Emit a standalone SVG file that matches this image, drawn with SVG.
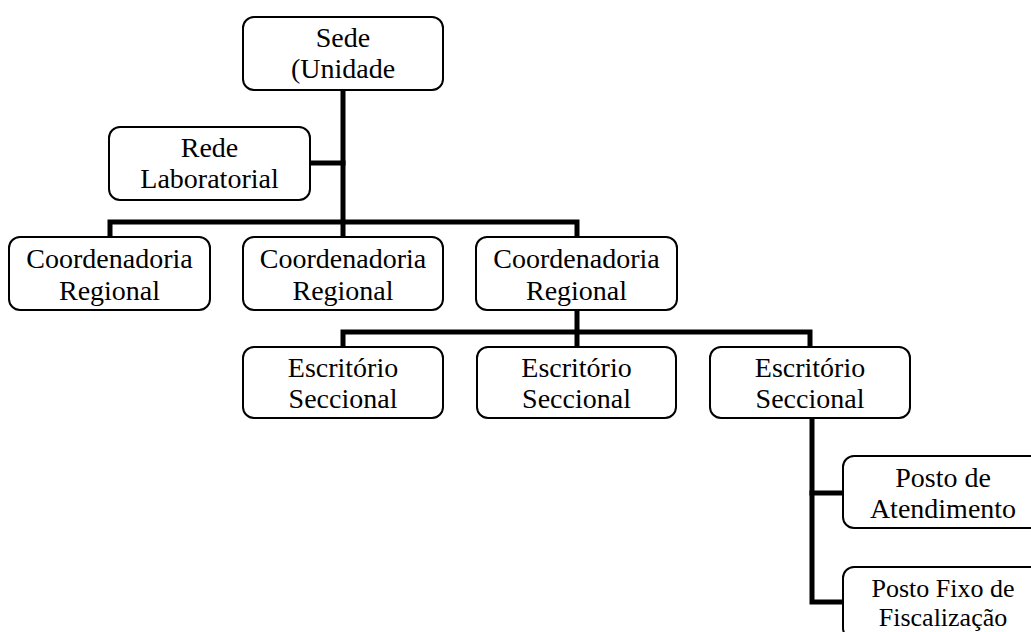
<svg xmlns="http://www.w3.org/2000/svg" width="1031" height="632" viewBox="0 0 1031 632">
  <style>
    .box { fill: #ffffff; stroke: #000000; stroke-width: 2; }
    .link { fill: none; stroke: #000000; stroke-width: 5; stroke-linejoin: miter; stroke-linecap: square; }
    text { font-family: "Liberation Serif", "Times New Roman", serif; font-size: 28px; fill: #000000; text-anchor: middle; }
    .tight { font-size: 26px; }
  </style>
  <rect width="1031" height="632" fill="#ffffff"/>

  <!-- connectors -->
  <g id="connectors">
    <path class="link" d="M343 90 V237"/>
    <path class="link" d="M310 163 H343"/>
    <path class="link" d="M110 237 V222 H577 V237"/>
    <path class="link" d="M577 310 V347"/>
    <path class="link" d="M343 347 V332 H810 V347"/>
    <path class="link" d="M812 418 V602 H843"/>
    <path class="link" d="M812 493 H843"/>
  </g>

  <g id="sede">
    <rect class="box" x="243" y="17" width="200" height="73" rx="11"/>
    <text x="343" y="47">Sede</text>
    <text x="343" y="78">(Unidade</text>
  </g>

  <g id="rede-laboratorial">
    <rect class="box" x="109" y="127" width="201" height="73" rx="11"/>
    <text x="209.5" y="157">Rede</text>
    <text x="209.5" y="188">Laboratorial</text>
  </g>

  <g id="coordenadoria-1">
    <rect class="box" x="9" y="237" width="201" height="73" rx="11"/>
    <text x="109.5" y="268">Coordenadoria</text>
    <text x="109.5" y="300">Regional</text>
  </g>

  <g id="coordenadoria-2">
    <rect class="box" x="243" y="237" width="200" height="73" rx="11"/>
    <text x="343" y="268">Coordenadoria</text>
    <text x="343" y="300">Regional</text>
  </g>

  <g id="coordenadoria-3">
    <rect class="box" x="476" y="237" width="201" height="73" rx="11"/>
    <text x="576.5" y="268">Coordenadoria</text>
    <text x="576.5" y="300">Regional</text>
  </g>

  <g id="escritorio-1">
    <rect class="box" x="243" y="347" width="200" height="71" rx="11"/>
    <text x="343" y="377">Escritório</text>
    <text x="343" y="408">Seccional</text>
  </g>

  <g id="escritorio-2">
    <rect class="box" x="477" y="347" width="199" height="71" rx="11"/>
    <text x="576.5" y="377">Escritório</text>
    <text x="576.5" y="408">Seccional</text>
  </g>

  <g id="escritorio-3">
    <rect class="box" x="710" y="347" width="200" height="71" rx="11"/>
    <text x="810" y="377">Escritório</text>
    <text x="810" y="408">Seccional</text>
  </g>

  <g id="posto-atendimento">
    <rect class="box" x="843" y="456" width="200" height="72" rx="11"/>
    <text x="943" y="487">Posto de</text>
    <text x="943" y="518">Atendimento</text>
  </g>

  <g id="posto-fixo">
    <rect class="box" x="843" y="567" width="200" height="72" rx="11"/>
    <text class="tight" x="943" y="597">Posto Fixo de</text>
    <text class="tight" x="943" y="626">Fiscalização</text>
  </g>
</svg>
